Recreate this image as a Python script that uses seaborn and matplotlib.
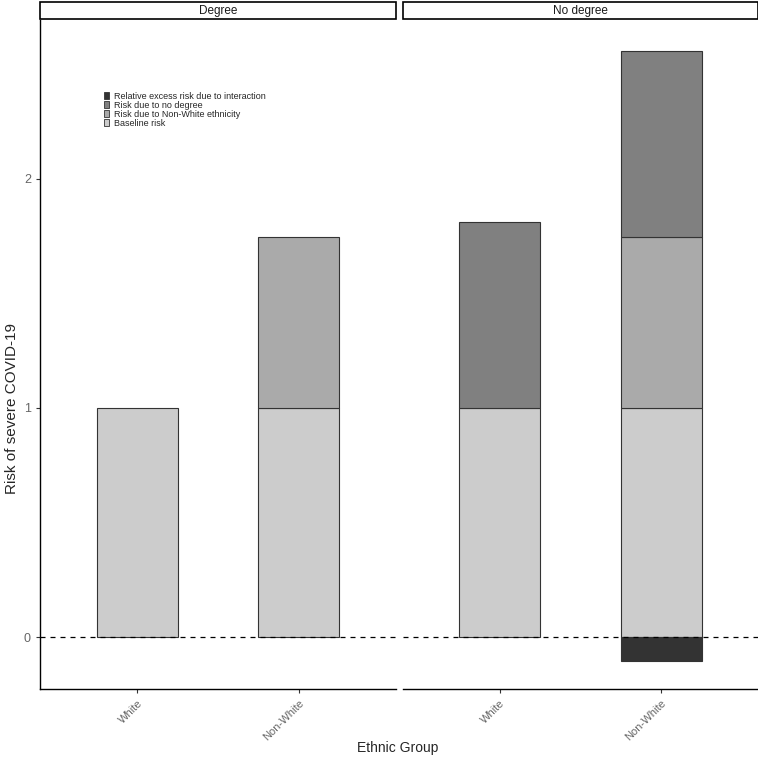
import pandas as pd
import numpy as np
import matplotlib
matplotlib.use("Agg")
import matplotlib.pyplot as plt
import seaborn as sns
from matplotlib.patches import Patch

# data
panels = ["Degree", "No degree"]
groups = ["White", "Non-White"]
components = ["Baseline risk", "Risk due to Non-White ethnicity",
              "Risk due to no degree", "Relative excess risk due to interaction"]
baseline = [[1.0, 1.0], [1.0, 1.0]]
nonwhite = [[0.0, 0.747], [0.0, 0.747]]
nodegree = [[0.0, 0.0], [0.812, 0.812]]
interaction = [[0.0, 0.0], [0.0, -0.105]]
colors = {"Baseline risk": "#cccccc",
          "Risk due to Non-White ethnicity": "#aaaaaa",
          "Risk due to no degree": "#808080",
          "Relative excess risk due to interaction": "#333333"}

sns.set_style("white")
plt.rcParams['font.family'] = ['Liberation Sans', 'DejaVu Sans']

fig = plt.figure(figsize=(7.58, 7.58), dpi=100)
W, H = 758, 758
ax1 = fig.add_axes([40 / W, 1 - 689 / H, 356 / W, 669 / H])
ax2 = fig.add_axes([403 / W, 1 - 689 / H, 355 / W, 669 / H], sharey=ax1)

for p, ax in enumerate([ax1, ax2]):
    layers = [("Baseline risk", baseline[p], [0, 0]),
              ("Risk due to Non-White ethnicity", nonwhite[p], baseline[p]),
              ("Risk due to no degree", nodegree[p],
               list(np.add(baseline[p], nonwhite[p]))),
              ("Relative excess risk due to interaction", interaction[p], [0, 0])]
    for name, vals, bot in layers:
        d = pd.DataFrame({"group": groups, "value": vals, "bottom": bot})
        d = d[d["value"] != 0]
        if len(d) == 0:
            continue
        for _, r in d.iterrows():
            ax.bar(groups.index(r["group"]), r["value"], width=0.5, bottom=r["bottom"],
                   color=colors[name], edgecolor="#333333", linewidth=0.8, zorder=2)
    ax.axhline(0, color="black", linestyle=(0, (4, 4)), linewidth=0.9, zorder=3)
    ax.set_xlim(-0.6, 1.6)
    ax.set_xticks([0, 1])
    ax.set_xticklabels(groups, rotation=45, ha="right", rotation_mode="anchor",
                       color="#666666", fontsize=8)
    ax.tick_params(axis="x", length=3, color="#333333", bottom=True)
    for s in ["top", "right"]:
        ax.spines[s].set_visible(False)
    ax.spines["bottom"].set_color("black")
    ax.spines["bottom"].set_linewidth(1.0)
    ax.set_xlabel("")
    ax.set_ylabel("")
    # strip
    ax.text(0.5, 1.0 + 9 / 669, panels[p], transform=ax.transAxes, ha="center",
            va="center", fontsize=8.5, color="#1a1a1a",
            bbox=dict(boxstyle="square,pad=0", fc="white", ec="none"))
    strip = plt.Rectangle((0, 1.0 + 1 / 669), 1, 17 / 669, transform=ax.transAxes,
                          fc="white", ec="black", lw=1.2, clip_on=False)
    ax.add_patch(strip)

ax1.set_ylim(-0.227, 2.694)
ax1.set_yticks([0, 1, 2])
ax1.set_yticklabels(["0", "1", "2"], color="#666666", fontsize=9)
ax1.tick_params(axis="y", length=3, color="#333333", left=True)
ax1.spines["left"].set_color("black")
ax1.spines["left"].set_linewidth(1.0)
ax2.spines["left"].set_visible(False)
ax2.tick_params(axis="y", left=False, labelleft=False)

fig.text(12 / W, 1 - 408 / H, "Risk of severe COVID-19", rotation=90,
         ha="center", va="center", fontsize=11)
fig.text(398 / W, 1 - 748 / H, "Ethnic Group", ha="center", va="center", fontsize=10)

handles = [Patch(facecolor=colors[c], edgecolor="#333333", linewidth=0.6)
           for c in components[::-1]]
ax1.legend(handles, components[::-1], loc="upper left",
           bbox_to_anchor=(60 / 356, 1 - 68 / 669), frameon=False, fontsize=6.5,
           handlelength=0.6, handleheight=0.8, handletextpad=0.6,
           labelspacing=0.0, borderaxespad=0)

fig.savefig("out.png", dpi=100)
